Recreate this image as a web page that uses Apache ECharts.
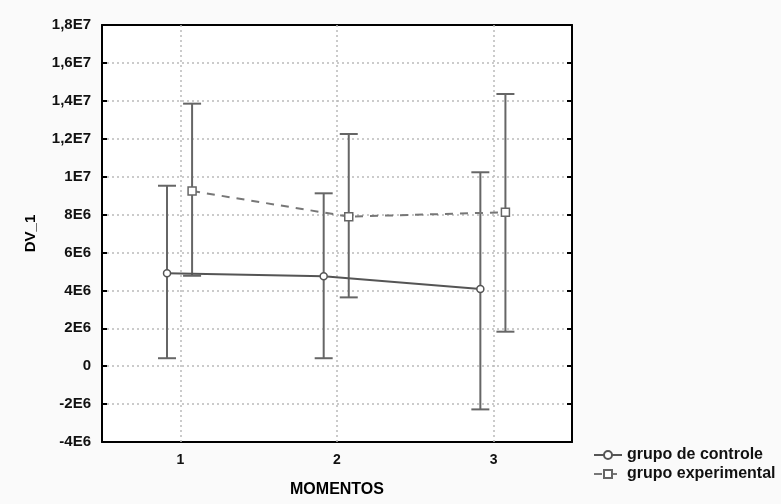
<!DOCTYPE html>
<html>
<head>
<meta charset="utf-8">
<script src="https://cdn.jsdelivr.net/npm/echarts@6/dist/echarts.min.js"></script>
<style>html,body{margin:0;padding:0;background:#fafafa;}#c{width:781px;height:504px;}</style>
</head>
<body>
<div id="c"></div>
<script>
const categories = ['1', '2', '3'];
const yTickLabels = ['-4E6', '-2E6', '0', '2E6', '4E6', '6E6', '8E6', '1E7', '1,2E7', '1,4E7', '1,6E7', '1,8E7'];
const controlMean = [4.9e6, 4.75e6, 4.07e6];
const controlUpper = [9.52e6, 9.12e6, 10.23e6];
const controlLower = [0.42e6, 0.42e6, -2.28e6];
const expMean = [9.24e6, 7.89e6, 8.12e6];
const expUpper = [13.85e6, 12.25e6, 14.36e6];
const expLower = [4.77e6, 3.63e6, 1.82e6];

const CTRL_OFF = -0.085, EXP_OFF = 0.075;
const YMIN = -4e6, YMAX = 1.8e7, YINT = 2e6;

function pts(vals, off) { return vals.map((v, i) => [i + 1 + off, v]); }
function errData(lo, hi, off) { return lo.map((l, i) => [i + 1 + off, l, hi[i]]); }

function errRender(params, api) {
  const x = api.value(0);
  const lo = api.coord([x, api.value(1)]);
  const hi = api.coord([x, api.value(2)]);
  const hw = 9;
  const st = { stroke: '#666', lineWidth: 2, fill: null };
  return {
    type: 'group',
    children: [
      { type: 'line', shape: { x1: lo[0], y1: lo[1], x2: hi[0], y2: hi[1] }, style: st },
      { type: 'line', shape: { x1: lo[0] - hw, y1: lo[1], x2: lo[0] + hw, y2: lo[1] }, style: st },
      { type: 'line', shape: { x1: hi[0] - hw, y1: hi[1], x2: hi[0] + hw, y2: hi[1] }, style: st }
    ]
  };
}

const font = 'Liberation Sans, Arial, sans-serif';
const chart = echarts.init(document.getElementById('c'));
chart.setOption({
  backgroundColor: '#fafafa',
  animation: false,
  grid: { left: 102, right: 209, top: 25, bottom: 62, show: true, backgroundColor: '#fff', borderWidth: 0 },
  legend: {
    orient: 'vertical', left: 588, top: 442, itemGap: 3, itemWidth: 28, itemHeight: 10,
    textStyle: { fontFamily: font, fontWeight: 'bold', fontSize: 16, color: '#111' },
    data: ['grupo de controle', 'grupo experimental']
  },
  xAxis: [
    {
      type: 'category', data: categories, position: 'bottom', boundaryGap: true,
      axisLine: { onZero: false, lineStyle: { color: '#000', width: 2 } },
      axisTick: { inside: true, alignWithLabel: true, length: 5, lineStyle: { color: '#000', width: 2 } },
      axisLabel: { fontFamily: font, fontWeight: 'bold', fontSize: 14, color: '#111', margin: 11 },
      splitLine: { show: false },
      name: 'MOMENTOS', nameLocation: 'middle', nameGap: 40,
      nameTextStyle: { fontFamily: font, fontWeight: 'bold', fontSize: 16, color: '#000' }
    },
    {
      type: 'category', data: categories, position: 'top', boundaryGap: true,
      axisLine: { onZero: false, lineStyle: { color: '#000', width: 2 } },
      axisTick: { inside: true, alignWithLabel: true, length: 5, lineStyle: { color: '#000', width: 2 } },
      axisLabel: { show: false }, splitLine: { show: false }
    },
    { type: 'value', min: 0.5, max: 3.5, show: false, axisLine: { onZero: false }, splitLine: { show: false } }
  ],
  yAxis: [
    {
      type: 'value', min: YMIN, max: YMAX, interval: YINT,
      axisLine: { show: true, onZero: false, lineStyle: { color: '#000', width: 2 } },
      axisTick: { show: true, inside: true, length: 5, lineStyle: { color: '#000', width: 2 } },
      axisLabel: {
        fontFamily: font, fontWeight: 'bold', fontSize: 15, color: '#111', margin: 11,
        formatter: v => yTickLabels[Math.round((v - YMIN) / YINT)]
      },
      splitLine: { show: true, lineStyle: { color: '#bbb', type: [2, 3], width: 1.5 } },
      name: 'DV_1', nameLocation: 'middle', nameGap: 64, nameRotate: 90,
      nameTextStyle: { fontFamily: font, fontWeight: 'bold', fontSize: 15, color: '#000' }
    },
    {
      type: 'value', min: YMIN, max: YMAX, interval: YINT, position: 'right',
      axisLine: { show: true, onZero: false, lineStyle: { color: '#000', width: 2 } },
      axisTick: { show: true, inside: true, length: 5, lineStyle: { color: '#000', width: 2 } },
      axisLabel: { show: false }, splitLine: { show: false }
    }
  ],
  series: [
    {
      type: 'custom', name: 'ctrlErr', xAxisIndex: 2, yAxisIndex: 0,
      renderItem: errRender, data: errData(controlLower, controlUpper, CTRL_OFF), z: 3,
      markLine: {
        silent: true, symbol: 'none', label: { show: false },
        lineStyle: { color: '#bbb', type: [2, 3], width: 1.5 },
        data: categories.map((c, i) => ({ xAxis: i + 1 }))
      }
    },
    {
      type: 'custom', name: 'expErr', xAxisIndex: 2, yAxisIndex: 0,
      renderItem: errRender, data: errData(expLower, expUpper, EXP_OFF), z: 3
    },
    {
      type: 'line', name: 'grupo de controle', xAxisIndex: 2, yAxisIndex: 0,
      data: pts(controlMean, CTRL_OFF),
      lineStyle: { color: '#555', width: 2 },
      itemStyle: { color: '#fff', borderColor: '#555', borderWidth: 1.5 },
      symbol: 'circle', symbolSize: 7, z: 5
    },
    {
      type: 'line', name: 'grupo experimental', xAxisIndex: 2, yAxisIndex: 0,
      data: pts(expMean, EXP_OFF),
      lineStyle: { color: '#777', width: 2, type: [8, 7] },
      itemStyle: { color: '#fff', borderColor: '#666', borderWidth: 1.5 },
      symbol: 'rect', symbolSize: 8, z: 5
    }
  ]
});
</script>
</body>
</html>
